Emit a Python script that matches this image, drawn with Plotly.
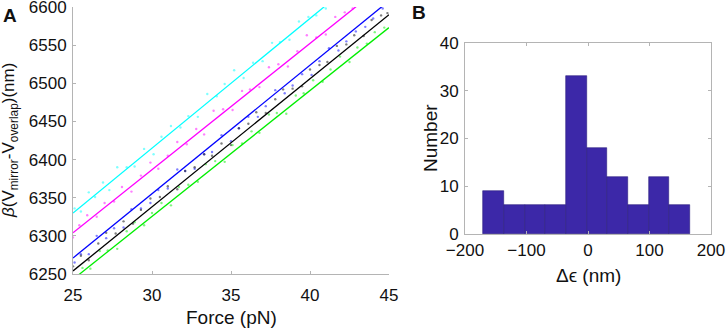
import plotly.graph_objects as go

# ---------------- Panel A data ----------------
force_range = [25, 45]
y_range_a = [6250, 6600]
y_ticks_a = [6250, 6300, 6350, 6400, 6450, 6500, 6550, 6600]
x_ticks_a = [25, 30, 35, 40, 45]

# fitted lines: value at Force=25 and Force=45
line_force = [25, 45]
cyan_fit = [6330, 6670]
magenta_fit = [6304, 6635]
blue_fit = [6271, 6608]
black_fit = [6254, 6590]
green_fit = [6243, 6573]

cyan_f = [25.1, 25.5, 26.0, 26.4, 26.9, 27.3, 27.8, 28.4, 28.9, 29.5, 30.1, 30.6, 31.2, 31.8, 32.3,
          32.9, 33.5, 34.1, 34.6, 35.2, 35.8, 36.4, 37.0, 37.6, 38.1, 38.7, 39.3, 39.9, 40.4, 41.0]
cyan_y = [6336, 6332, 6357, 6351, 6370, 6360, 6390, 6390, 6391, 6414, 6407, 6430, 6444, 6442, 6457,
          6456, 6486, 6483, 6499, 6517, 6507, 6527, 6529, 6553, 6554, 6557, 6581, 6587, 6589, 6598]

magenta_f = [25.0, 25.4, 25.9, 26.5, 27.0, 27.6, 28.1, 28.7, 29.3, 29.9, 30.4, 31.0, 31.6, 32.2, 32.8, 33.3,
             33.9, 34.5, 35.1, 35.7, 36.2, 36.8, 37.4, 38.0, 38.6, 39.2, 39.8, 40.4, 41.0, 41.6, 42.2, 42.7]
magenta_y = [6298, 6314, 6327, 6325, 6343, 6345, 6364, 6358, 6379, 6396, 6388, 6405, 6423, 6420, 6440, 6433,
             6464, 6466, 6465, 6490, 6492, 6495, 6521, 6525, 6522, 6542, 6563, 6560, 6564, 6587, 6593, 6598]

blue_f = [25.1, 25.5, 26.0, 26.5, 27.1, 27.6, 28.2, 28.7, 29.3, 29.9, 30.4, 31.0, 31.6, 32.1, 32.7, 33.3, 33.8, 34.4,
          35.0, 35.5, 36.1, 36.7, 37.2, 37.8, 38.4, 38.9, 39.5, 40.1, 40.6, 41.2, 41.8, 42.3, 42.9, 43.5, 44.0, 44.6]
blue_y = [6265, 6276, 6276, 6300, 6297, 6310, 6311, 6335, 6336, 6343, 6360, 6362, 6387, 6385, 6388, 6407, 6410, 6432,
          6424, 6441, 6456, 6456, 6470, 6491, 6487, 6497, 6512, 6511, 6529, 6546, 6543, 6555, 6568, 6574, 6585, 6598]

black_f = [25.0, 25.5, 26.0, 26.6, 27.1, 27.7, 28.2, 28.8, 29.3, 29.9, 30.5, 31.0, 31.6, 32.1, 32.7, 33.3, 33.8, 34.4, 35.0,
           35.5, 36.1, 36.6, 37.2, 37.8, 38.3, 38.9, 39.5, 40.0, 40.6, 41.1, 41.7, 42.3, 42.8, 43.4, 43.9, 44.5, 44.9]
black_y = [6260, 6274, 6268, 6290, 6304, 6303, 6319, 6316, 6334, 6349, 6351, 6365, 6361, 6385, 6390, 6407, 6405, 6421, 6419,
           6441, 6447, 6462, 6461, 6479, 6492, 6493, 6496, 6518, 6524, 6528, 6549, 6551, 6563, 6562, 6583, 6589, 6592]

green_f = [25.6, 26.1, 26.7, 27.2, 27.8, 28.4, 28.9, 29.5, 30.0, 30.6, 31.2, 31.7, 32.3, 32.9, 33.4, 34.0, 34.6, 35.1,
           35.7, 36.3, 36.8, 37.4, 37.9, 38.5, 39.1, 39.6, 40.2, 40.8, 41.3, 41.9, 42.5, 43.0, 43.6, 44.1, 44.7]
green_y = [6258, 6257, 6280, 6281, 6283, 6306, 6318, 6314, 6330, 6343, 6340, 6364, 6367, 6371, 6394, 6398, 6397, 6419,
           6421, 6437, 6435, 6459, 6461, 6460, 6484, 6487, 6504, 6502, 6518, 6535, 6528, 6547, 6552, 6567, 6573]

# ---------------- Panel B data ----------------
bin_edges = [-170.0, -136.4, -102.8, -69.2, -35.6, -2.0, 31.6, 65.2, 98.8, 132.4, 166.0]
counts = [9, 6, 6, 6, 33, 18, 12, 6, 12, 6]
x_range_b = [-200, 200]
x_ticks_b = [-200, -100, 0, 100, 200]
y_range_b = [0, 40]
y_ticks_b = [0, 10, 20, 30, 40]

FONT = "Liberation Sans, Arial, sans-serif"
AXC = "#b4b4b4"
TXT = "#111111"

fig = go.Figure()

series = [
    (cyan_f, cyan_y, cyan_fit, "#00ffff"),
    (magenta_f, magenta_y, magenta_fit, "#ff00ff"),
    (blue_f, blue_y, blue_fit, "#0000ff"),
    (black_f, black_y, black_fit, "#000000"),
    (green_f, green_y, green_fit, "#00ee00"),
]
for fx, fy, fit, col in series:
    fig.add_trace(go.Scatter(x=fx, y=fy, mode="markers", xaxis="x", yaxis="y",
                             marker=dict(color=col, size=2.4, opacity=0.5),
                             cliponaxis=True, showlegend=False, hoverinfo="skip"))
for fx, fy, fit, col in series:
    fig.add_trace(go.Scatter(x=line_force, y=fit, mode="lines", xaxis="x", yaxis="y",
                             line=dict(color=col, width=1.3), showlegend=False))

centers = [(bin_edges[i] + bin_edges[i + 1]) / 2 for i in range(len(counts))]
widths = [bin_edges[i + 1] - bin_edges[i] for i in range(len(counts))]
fig.add_trace(go.Bar(x=centers, y=counts, width=widths, xaxis="x2", yaxis="y2",
                     marker=dict(color="#3c28a8", line=dict(color="#2a1d80", width=0.6)),
                     showlegend=False))

tickfont = dict(family=FONT, size=17, color=TXT)

common = dict(showline=True, linecolor=AXC, linewidth=1, showgrid=False, zeroline=False,
              ticks="inside", ticklen=3, tickcolor=AXC, tickfont=tickfont, automargin=False,
              ticklabeloverflow="allow")

fig.update_layout(
    width=726, height=329,
    margin=dict(l=0, r=0, t=0, b=0, pad=0),
    paper_bgcolor="white", plot_bgcolor="white",
    font=dict(family=FONT, color=TXT),
    bargap=0,
    xaxis=dict(domain=[73 / 726, 389 / 726], range=force_range, tickvals=x_ticks_a,
               mirror=False, ticklabelstandoff=6, anchor="y", **common),
    yaxis=dict(domain=[1 - 274 / 329, 1 - 7 / 329], range=y_range_a, tickvals=y_ticks_a,
               mirror=False, ticklabelstandoff=2, anchor="x", **common),
    xaxis2=dict(domain=[465 / 726, 711 / 726], range=x_range_b, tickvals=x_ticks_b,
                mirror="ticks", ticklabelstandoff=1, anchor="y2", **common),
    yaxis2=dict(domain=[1 - 234 / 329, 1 - 43 / 329], range=y_range_b, tickvals=y_ticks_b,
                mirror="ticks", ticklabelstandoff=2, anchor="x2", **common),
)

ann = [
    dict(text="<b>A</b>", x=10 / 726, y=1 - 15 / 329, font=dict(size=19, family=FONT, color=TXT)),
    dict(text="<b>B</b>", x=419 / 726, y=1 - 13 / 329, font=dict(size=19, family=FONT, color=TXT)),
    dict(text="Force (pN)", x=231 / 726, y=1 - 317 / 329, font=dict(size=19, family=FONT, color=TXT)),
    dict(text="Δϵ (nm)", x=588 / 726, y=1 - 275 / 329, font=dict(size=19, family=FONT, color=TXT)),
    dict(text="Number", x=430 / 726, y=1 - 138 / 329, textangle=-90,
         font=dict(size=19, family=FONT, color=TXT)),
    dict(text="<i>β</i>(V<sub>mirror</sub>-V<sub>overlap</sub>)(nm)", x=10 / 726, y=1 - 141 / 329,
         textangle=-90, font=dict(size=17, family=FONT, color=TXT)),
]
for a in ann:
    a.update(xref="paper", yref="paper", showarrow=False, xanchor="center", yanchor="middle")
fig.update_layout(annotations=ann)

fig.write_html("out.html", config={"displayModeBar": False},
               post_script="document.body.style.margin='0px';document.body.style.overflow='hidden';")
